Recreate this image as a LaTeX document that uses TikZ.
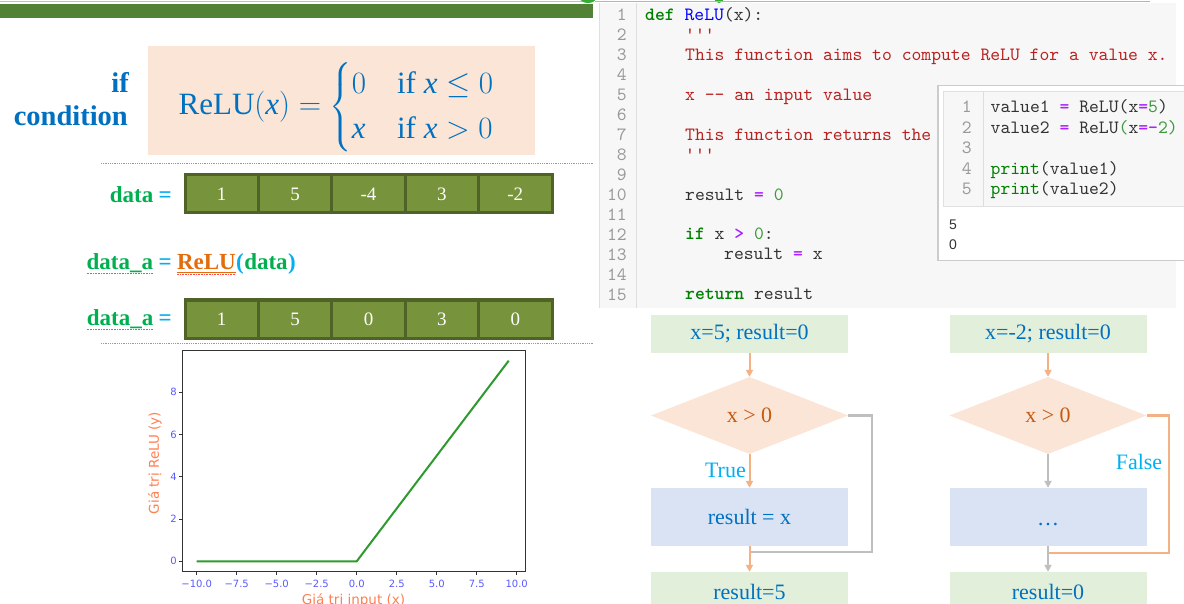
\documentclass[tikz,border=0pt]{standalone}
\usepackage{fix-cm}
\usepackage{amsmath}
\usepackage{fontspec}
\setmainfont{Liberation Serif}
\setsansfont{Liberation Sans}
\setmonofont{lmmono10-regular.otf}[BoldFont=lmmonolt10-bold.otf]
\newfontfamily\dvfont{DejaVu Sans}
\usetikzlibrary{shapes.geometric,arrows.meta}
\definecolor{barG}{HTML}{538135}
\definecolor{titleB}{HTML}{0070C0}
\definecolor{pinkF}{HTML}{FBE5D6}
\definecolor{greenT}{HTML}{00B050}
\definecolor{cyanT}{HTML}{00B0F0}
\definecolor{orangeT}{HTML}{E46C0A}
\definecolor{cellF}{HTML}{77933C}
\definecolor{cellB}{HTML}{4F6228}
\definecolor{codeBG}{HTML}{F7F7F7}
\definecolor{kwG}{HTML}{008000}
\definecolor{fnB}{HTML}{0000FF}
\definecolor{docR}{HTML}{BA2121}
\definecolor{opP}{HTML}{AA22FF}
\definecolor{numG}{HTML}{3C9A3C}
\definecolor{txtC}{HTML}{333333}
\definecolor{lnG}{HTML}{999999}
\definecolor{boxG}{HTML}{E2EFDA}
\definecolor{boxB}{HTML}{DAE3F3}
\definecolor{arrO}{HTML}{F4B183}
\definecolor{arrG}{HTML}{BFBFBF}
\definecolor{darkO}{HTML}{C55A11}
\definecolor{tickB}{HTML}{5A5AFF}
\definecolor{coralC}{HTML}{FF7F50}
\definecolor{plotG}{HTML}{2E9A2E}
\definecolor{gutC}{HTML}{DDDDDD}
\newcommand{\xv}{\text{\itshape x}}
\begin{document}
\begin{tikzpicture}[x=1pt,y=-1pt,
  codetxt/.style={anchor=base west,inner sep=0,font=\ttfamily\fontsize{18.75}{20}\selectfont,text=txtC},
  lnum/.style={anchor=base east,inner sep=0,font=\ttfamily\fontsize{18.75}{20}\selectfont,text=lnG},
  cellbox/.style={draw=cellB,line width=3pt,fill=cellF,minimum width=73.4pt,minimum height=38pt,inner sep=0,text=white,font=\fontsize{19}{22}\selectfont},
  lbltxt/.style={inner sep=0,font=\fontsize{23}{26}\selectfont\bfseries},
  flowbox/.style={inner sep=0,minimum width=197pt,text=titleB,font=\fontsize{22}{26}\selectfont},
  flowdia/.style={diamond,inner sep=0,minimum width=197pt,minimum height=77pt,fill=pinkF,text=darkO,font=\fontsize{22}{26}\selectfont},
  oarrow/.style={draw=arrO,line width=2pt,-{Triangle[length=7pt,width=7pt]}},
  garrow/.style={draw=arrG,line width=2pt,-{Triangle[length=7pt,width=7pt]}},
  oline/.style={draw=arrO,line width=2.5pt},
  gline/.style={draw=arrG,line width=2.5pt},
  dotline/.style={draw=black!40,line width=0.8pt,densely dotted},
  ticklbl/.style={inner sep=0,font=\dvfont\fontsize{10}{12}\selectfont,text=tickB},
  axlbl/.style={inner sep=0,font=\dvfont\fontsize{13.5}{15}\selectfont,text=coralC}]
\useasboundingbox (0,0) rectangle (1184,604);
\fill[white] (0,0) rectangle (1184,604);
% ---------- left panel ----------
\draw[black!25,line width=0.8pt] (0,1) -- (593,1);
\fill[barG] (0,4) rectangle (593,18);
\fill[green!60!black!80] (588,-2) ellipse (8pt and 5pt);
\fill[green!60!black!80] (719,-2) ellipse (5pt and 5pt);
\node[anchor=base east,inner sep=0,text=titleB,font=\fontsize{28.5}{30}\selectfont\bfseries] (ifw) at (129,93) {if};
\node[anchor=base east,inner sep=0,text=titleB,font=\fontsize{28.5}{30}\selectfont\bfseries] (cond) at (128,126) {condition};
\node[fill=pinkF,minimum width=387pt,minimum height=109pt,inner sep=0] (pk) at (341.5,100.5) {};
\node[text=titleB,inner sep=0,font=\fontsize{31}{37}\selectfont] (fm) at (336.5,107) {$\text{ReLU}(\xv) = \begin{cases} 0 & \text{if } \xv \le 0\\ \xv & \text{if } \xv > 0\end{cases}$};
\draw[dotline] (101,163.5) -- (593,163.5);
% data row
\node[lbltxt,anchor=base east,text=cyanT] (eq1) at (172,203) {=};
\node[lbltxt,anchor=base east,text=greenT] (dl1) at ([xshift=-5pt]eq1.base west) {data};
\foreach \v [count=\i] in {1,5,-4,3,-2}
  \node[cellbox] (a\i) at (221.7+73.4*\i-73.4,194) {\v};
% data_a = ReLU(data)
\node[lbltxt,anchor=base west,text=greenT] (da1) at (86.5,270) {data\_a};
\node[lbltxt,anchor=base west,text=cyanT] (eq2) at ([xshift=5pt]da1.base east) {=};
\node[lbltxt,anchor=base west,text=orangeT] (rl) at ([xshift=5pt]eq2.base east) {ReLU};
\node[lbltxt,anchor=base west,text=cyanT] (lp) at (rl.base east) {(};
\node[lbltxt,anchor=base west,text=greenT] (dd) at (lp.base east) {data};
\node[lbltxt,anchor=base west,text=cyanT] (rp) at (dd.base east) {)};
\draw[red!70,line width=0.6pt,densely dotted] ([yshift=-3pt]da1.base west) -- ([yshift=-3pt]da1.base east);
\draw[orangeT,line width=1pt] ([yshift=-3pt]rl.base west) -- ([yshift=-3pt]rl.base east);
\draw[red!70,line width=0.6pt,densely dotted] ([yshift=-4.5pt]rl.base west) -- ([yshift=-4.5pt]rl.base east);
% data_a row
\node[lbltxt,anchor=base east,text=cyanT] (eq3) at (172,326) {=};
\node[lbltxt,anchor=base east,text=greenT] (da2) at ([xshift=-5pt]eq3.base west) {data\_a};
\draw[red!70,line width=0.6pt,densely dotted] ([yshift=-3pt]da2.base west) -- ([yshift=-3pt]da2.base east);
\foreach \v [count=\i] in {1,5,0,3,0}
  \node[cellbox] (b\i) at (221.7+73.4*\i-73.4,319) {\v};
\draw[dotline] (101,343.5) -- (593,343.5);
% plot
\draw[plotG,line width=2pt] (196.7,561.3) -- (356.7,561.3) -- (508.7,360.7);
\draw[black!80,line width=1pt] (182,350) rectangle (525,571);
\foreach \v/\l [count=\i] in {-10/−10.0,-7.5/−7.5,-5/−5.0,-2.5/−2.5,0/0.0,2.5/2.5,5/5.0,7.5/7.5,10/10.0}{
  \draw[black!80,line width=0.8pt] (356.7+16*\v,571) -- ++(0,3.5);
  \node[ticklbl] (xt\i) at (356.7+16*\v,584) {\l};
}
\foreach \v [count=\i] in {0,2,4,6,8}{
  \draw[black!80,line width=0.8pt] (182,561.3-21.12*\v) -- ++(-3.5,0);
  \node[ticklbl,anchor=east] (yt\i) at (177,561.3-21.12*\v) {\v};
}
\node[axlbl,anchor=base] (xl) at (353.5,604) {Giá trị input (x)};
\node[axlbl,rotate=90] (yl) at (155,463) {Giá trị ReLU (y)};
% ---------- code panel ----------
\fill[codeBG] (599,3) rectangle (1176,308);
\draw[black!12,line width=0.8pt] (599,3) -- (599,308);
\draw[gutC,line width=0.8pt] (636,3) -- (636,308);
\draw[green!45!black!40,line width=1pt] (595,1.5) -- (1150,1.5);
\foreach \i in {1,...,15}
  \node[lnum] (ln\i) at (627,21+19.93*\i-19.93) {\i};
\node[codetxt] (c1) at (645,21) {{\bfseries\color{kwG}def} {\color{fnB}ReLU}(x):};
\node[codetxt,text=docR] (c2) at (685,41) {'''};
\node[codetxt,text=docR] (c3) at (685,61) {This function aims to compute ReLU for a value x.};
\node[codetxt,text=docR] (c5) at (685,101) {x -- an input value};
\node[codetxt,text=docR] (c7) at (685,141) {This function returns the};
\node[codetxt,text=docR] (c8) at (685,160.5) {'''};
\node[codetxt] (c10) at (685,200.5) {result {\bfseries\color{opP}=} {\color{numG}0}};
\node[codetxt] (c12) at (685,240) {{\bfseries\color{kwG}if} x {\bfseries\color{opP}>} {\color{numG}0}:};
\node[codetxt] (c13) at (724,260) {result {\bfseries\color{opP}=} x};
\node[codetxt] (c15) at (685,300) {{\bfseries\color{kwG}return} result};
% inner cell
\node[draw=black!20,line width=1.5pt,fill=white,minimum width=252pt,minimum height=175pt,inner sep=0,anchor=north west] (cell) at (937,85) {};
\node[draw=black!12,line width=0.8pt,fill=codeBG,minimum width=246pt,minimum height=115pt,inner sep=0,anchor=north west] (incode) at (943,91) {};
\draw[gutC,line width=0.8pt] (983,91) -- (983,206);
\foreach \i/\yy in {1/113,2/133.5,3/154,4/174.5,5/195}
  \node[lnum] (iln\i) at (972,\yy) {\i};
\node[codetxt] (v1) at (990.5,113) {value1 {\bfseries\color{opP}=} ReLU(x{\bfseries\color{opP}=}{\color{numG}5})};
\node[codetxt] (v2) at (990.5,133.5) {value2 {\bfseries\color{opP}=} ReLU{\color{numG}(}x{\bfseries\color{opP}=-}{\color{numG}2}{\color{numG})}};
\node[codetxt] (v4) at (990.5,174.5) {{\color{kwG}print}(value1)};
\node[codetxt] (v5) at (990.5,195) {{\color{kwG}print}(value2)};
\node[anchor=base west,inner sep=0,font=\sffamily\fontsize{14}{16}\selectfont,text=txtC] (o1) at (949,230) {5};
\node[anchor=base west,inner sep=0,font=\sffamily\fontsize{14}{16}\selectfont,text=txtC] (o2) at (949,249.5) {0};
% ---------- flowchart left ----------
\node[flowbox,fill=boxG,minimum height=38pt] (t1) at (749.5,334) {x=5; result=0};
\node[flowdia] (d1) at (749.5,415.5) {x > 0};
\node[flowbox,fill=boxB,minimum height=58pt] (m1) at (749.5,517) {result = x};
\node[flowbox,fill=boxG,minimum height=40pt] (f1) at (749.5,592) {result=5};
\coordinate (r1) at (872,415.5);
\coordinate (j1) at (749.5,552);
\draw[gline] (d1.east) -- (r1) |- (j1);
\draw[oarrow] (t1) -- (d1);
\draw[oarrow] (d1) -- (m1);
\draw[oarrow] (m1) -- (f1);
\node[inner sep=0,anchor=east,text=cyanT,font=\fontsize{22}{26}\selectfont] (tr) at (746,470) {True};
% ---------- flowchart right ----------
\node[flowbox,fill=boxG,minimum height=38pt] (t2) at (1048,334) {x=-2; result=0};
\node[flowdia] (d2) at (1048,415.5) {x > 0};
\node[flowbox,fill=boxB,minimum height=58pt,text height=18pt,text depth=1pt] (m2) at (1048,517) {…};
\node[flowbox,fill=boxG,minimum height=40pt] (f2) at (1048,592) {result=0};
\coordinate (r2) at (1169,415.5);
\coordinate (j2) at (1048,553);
\draw[oline] (d2.east) -- (r2) |- (j2);
\draw[oarrow] (t2) -- (d2);
\draw[garrow] (d2) -- (m2);
\draw[garrow] (m2) -- (f2);
\node[inner sep=0,text=cyanT,font=\fontsize{22}{26}\selectfont] (fl) at (1139,462) {False};
\end{tikzpicture}
\end{document}
